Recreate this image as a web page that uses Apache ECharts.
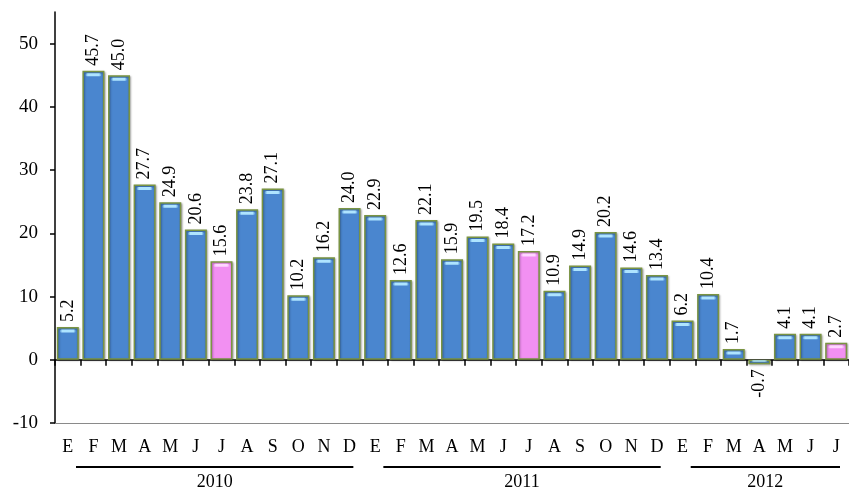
<!DOCTYPE html>
<html>
<head>
<meta charset="utf-8">
<script src="https://cdn.jsdelivr.net/npm/echarts@6/dist/echarts.min.js"></script>
<style>
  html, body { margin: 0; padding: 0; background: #ffffff; }
  #main { width: 849px; height: 491px; }
</style>
</head>
<body>
<div id="main"></div>
<script>
// Month initials (Spanish): Enero ... Diciembre
const months2010 = ['E','F','M','A','M','J','J','A','S','O','N','D'];
const months2011 = ['E','F','M','A','M','J','J','A','S','O','N','D'];
const months2012 = ['E','F','M','A','M','J','J'];

const values2010 = [5.2, 45.7, 45.0, 27.7, 24.9, 20.6, 15.6, 23.8, 27.1, 10.2, 16.2, 24.0];
const values2011 = [22.9, 12.6, 22.1, 15.9, 19.5, 18.4, 17.2, 10.9, 14.9, 20.2, 14.6, 13.4];
const values2012 = [6.2, 10.4, 1.7, -0.7, 4.1, 4.1, 2.7];

const years = ['2010', '2011', '2012'];
const yTicks = [-10, 0, 10, 20, 30, 40, 50];

const categories = months2010.concat(months2011, months2012);
const values = values2010.concat(values2011, values2012);
const yearSizes = [months2010.length, months2011.length, months2012.length];

const FONT = '"Liberation Serif", "Times New Roman", serif';
const BAR_WIDTH_RATIO = 0.86;

function hGrad(edge, mid) {
  return new echarts.graphic.LinearGradient(0, 0, 1, 0, [
    { offset: 0, color: edge },
    { offset: 0.12, color: mid },
    { offset: 0.88, color: mid },
    { offset: 1, color: edge }
  ]);
}
const blueFill = hGrad('#3c72b4', '#4a86cf');
const pinkFill = hGrad('#dc78dc', '#f290f2');
function gloss(c, edge) {
  return new echarts.graphic.LinearGradient(0, 0, 1, 0, [
    { offset: 0, color: edge },
    { offset: 0.15, color: c },
    { offset: 0.85, color: c },
    { offset: 1, color: edge }
  ]);
}
const blueGloss = gloss('#aee4ff', 'rgba(150,215,255,0.25)');
const pinkGloss = gloss('#ffd6ff', 'rgba(255,210,255,0.25)');

// July of each year is drawn in pink
const isJuly = i => categories[i] === 'J' && categories[i - 1] === 'J';

const barData = values.map((v, i) => ({
  value: v,
  itemStyle: { color: isJuly(i) ? pinkFill : blueFill },
  label: v < 0 ? { position: 'bottom', align: 'right' } : { position: 'top', align: 'left' }
}));

const chart = echarts.init(document.getElementById('main'), null, { renderer: 'canvas' });

const option = {
  animation: false,
  backgroundColor: '#ffffff',
  grid: { left: 55, right: 0, top: 12, bottom: 68, containLabel: false },
  xAxis: [
    {
      type: 'category',
      data: categories,
      position: 'bottom',
      axisLine: { onZero: false, lineStyle: { color: '#8a8a8a', width: 1 } },
      axisTick: { show: false },
      axisLabel: { interval: 0, margin: 15, color: '#000', fontFamily: FONT, fontSize: 18 },
      splitLine: { show: false }
    },
    {
      type: 'category',
      data: categories,
      position: 'bottom',
      axisLine: { onZero: true, lineStyle: { color: '#000', width: 1.5 } },
      axisTick: { show: true, length: 6, lineStyle: { color: '#000', width: 1.5 } },
      axisLabel: { show: false },
      splitLine: { show: false }
    }
  ],
  yAxis: {
    type: 'value',
    min: -10,
    max: 55,
    interval: 10,
    axisLine: { show: true, lineStyle: { color: '#000', width: 1.5 } },
    axisTick: { show: true, length: 5, customValues: yTicks, lineStyle: { color: '#000', width: 1.5 } },
    axisLabel: {
      customValues: yTicks,
      margin: 17,
      color: '#000',
      fontFamily: FONT,
      fontSize: 19,
      formatter: v => (v > 50 ? '' : String(v))
    },
    splitLine: { show: false }
  },
  series: [
    {
      type: 'bar',
      xAxisIndex: 0,
      data: barData,
      barWidth: (BAR_WIDTH_RATIO * 100) + '%',
      itemStyle: {
        borderColor: '#7a9442',
        borderWidth: 1.5,
        shadowColor: 'rgba(0,0,0,0.3)',
        shadowBlur: 2,
        shadowOffsetX: 1,
        shadowOffsetY: 1
      },
      label: {
        show: true,
        rotate: 90,
        verticalAlign: 'middle',
        distance: 5,
        color: '#000',
        fontFamily: FONT,
        fontSize: 18,
        formatter: p => p.value.toFixed(1)
      },
      z: 2
    },
    {
      // bevel highlight along the outer edge of each bar
      type: 'custom',
      xAxisIndex: 0,
      silent: true,
      data: values.map((v, i) => [i, v]),
      renderItem: function (params, api) {
        const v = api.value(1);
        const i = api.value(0);
        const end = api.coord([i, v]);
        const zero = api.coord([i, 0]);
        const bw = api.size([1, 0])[0] * BAR_WIDTH_RATIO;
        const len = Math.abs(end[1] - zero[1]);
        const h = Math.min(3, Math.max(1, len - 3));
        const y = v >= 0 ? end[1] + 2.5 : end[1] - 2.5 - h;
        return {
          type: 'rect',
          shape: { x: end[0] - bw / 2 + 3, y: y, width: bw - 6, height: h, r: 1.5 },
          style: { fill: isJuly(i) ? pinkGloss : blueGloss },
          z2: 10
        };
      },
      z: 3
    }
  ]
};

chart.setOption(option);

// Year captions with underlines below the month labels
function drawYears() {
  const c0 = chart.convertToPixel({ xAxisIndex: 0 }, 0);
  const c1 = chart.convertToPixel({ xAxisIndex: 0 }, 1);
  const w = c1 - c0;
  const baseY = chart.convertToPixel({ yAxisIndex: 0 }, -10);
  const elements = [];
  let start = 0;
  yearSizes.forEach((n, k) => {
    const left = chart.convertToPixel({ xAxisIndex: 0 }, start) - w / 2 + 21;
    const right = chart.convertToPixel({ xAxisIndex: 0 }, start + n - 1) + w / 2 - 9;
    elements.push({
      type: 'line',
      shape: { x1: left, y1: baseY + 44, x2: right, y2: baseY + 44 },
      style: { stroke: '#000', lineWidth: 2.2 }
    });
    elements.push({
      type: 'text',
      x: (left + right) / 2,
      y: baseY + 59,
      style: {
        text: years[k],
        fill: '#000',
        font: '18px ' + FONT,
        align: 'center',
        verticalAlign: 'middle'
      }
    });
    start += n;
  });
  chart.setOption({ graphic: elements });
}
drawYears();
</script>
</body>
</html>
